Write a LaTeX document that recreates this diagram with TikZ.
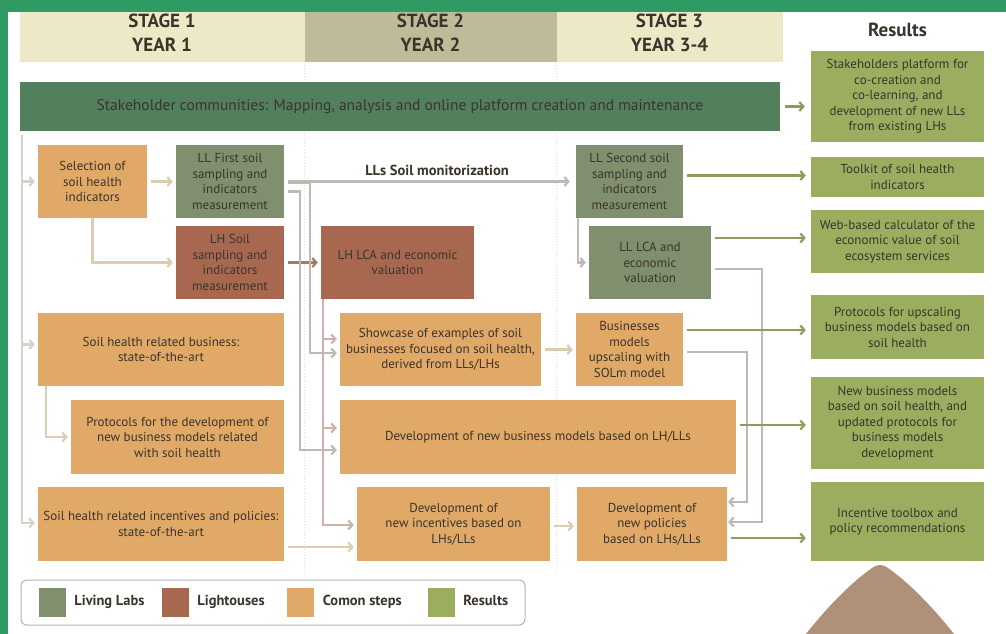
\documentclass[tikz,border=0pt]{standalone}
\usepackage{fontspec}
\setmainfont{PT Sans}
\usetikzlibrary{arrows.meta}
\usetikzlibrary{positioning}

\definecolor{frame}{HTML}{2F9A64}
\definecolor{cream}{HTML}{EDE8C6}
\definecolor{khaki}{HTML}{BEBC98}
\definecolor{bargreen}{HTML}{52805D}
\definecolor{llgreen}{HTML}{808F6E}
\definecolor{lhbrown}{HTML}{A8684F}
\definecolor{cmorange}{HTML}{E0A967}
\definecolor{resgreen}{HTML}{9BAD5F}
\definecolor{ink}{HTML}{3B342C}
\definecolor{lgray}{HTML}{D6D2C8}
\definecolor{beige}{HTML}{DCCDB2}
\definecolor{mgray}{HTML}{BDB9B3}
\definecolor{pinkl}{HTML}{CFB0AA}
\definecolor{brownl}{HTML}{A37A67}
\definecolor{olive}{HTML}{8E9B5C}
\definecolor{peak}{HTML}{B09079}
\definecolor{legline}{HTML}{B5B3AE}

\begin{document}
\begin{tikzpicture}[x=1pt,y=-1pt,
    every node/.style={text=ink},
    stepbox/.style={rectangle, align=center, inner sep=2pt, font=\fontsize{13}{15.5}\selectfont},
    llbox/.style={stepbox, fill=llgreen},
    lhbox/.style={stepbox, fill=lhbrown},
    cmbox/.style={stepbox, fill=cmorange},
    resbox/.style={stepbox, fill=resgreen, minimum width=173},
    stagecell/.style={rectangle, inner sep=0, minimum height=50},
    stagetxt/.style={align=center, font=\bfseries\fontsize{19}{24}\selectfont},
    link/.style={line width=2.2pt, shorten <=4pt, shorten >=3pt, -{Straight Barb[length=4pt,width=9pt]}},
    sepline/.style={draw=gray!25, dotted, line width=0.8pt},
    swatch/.style={rectangle, inner sep=0, minimum width=27, minimum height=29},
    legtxt/.style={inner sep=0, text height=10.5pt, text depth=3pt, font=\bfseries\fontsize{14.5}{16}\selectfont},
    node distance=8.5pt]

\useasboundingbox (0,0) rectangle (1006,634);
\fill[white] (0,0) rectangle (1006,634);
\fill[frame] (0,0) rectangle (1006,12);
\fill[frame] (0,0) rectangle (8,634);

\node[stagecell, fill=cream, minimum width=285] (st1) at (162,37) {};
\node[stagecell, fill=khaki, minimum width=252] (st2) at (430.5,37) {};
\node[stagecell, fill=cream, minimum width=226] (st3) at (669.5,37) {};
\node[stagetxt] at ([yshift=4.5pt]st1.center) {STAGE 1\\YEAR 1};
\node[stagetxt] at ([yshift=4.5pt]st2.center) {STAGE 2\\YEAR 2};
\node[stagetxt] at ([yshift=4.5pt]st3.center) {STAGE 3\\YEAR 3-4};
\node[font=\bfseries\fontsize{19}{21}\selectfont] (reshead) at (897.5,30) {Results};

\draw[sepline] (st1.south east) -- ++(0,510);
\draw[sepline] (st2.south east) -- ++(0,510);

\node[rectangle, fill=bargreen, minimum width=760, minimum height=49, font=\fontsize{15.5}{17}\selectfont] (stake) at (400,106.5)
    {Stakeholder communities: Mapping, analysis and online platform creation and maintenance};

\node[cmbox, minimum width=109, minimum height=73] (selind) at (92.5,181.5) {Selection of\\soil health\\indicators};
\node[llbox, minimum width=108, minimum height=73] (llfirst) at (230,181.5) {LL First soil\\sampling and\\indicators\\measurement};
\node[lhbox, minimum width=108, minimum height=73] (lhsoil) at (230,262.5) {LH Soil\\sampling and\\indicators\\measurement};
\node[lhbox, minimum width=153, minimum height=73] (lhlca) at (397.5,262.5) {LH LCA and economic\\valuation};
\node[llbox, minimum width=107, minimum height=73] (llsecond) at (629.5,181.5) {LL Second soil\\sampling and\\indicators\\measurement};
\node[llbox, minimum width=122, minimum height=73] (lllca) at (650,262.5) {LL LCA and\\economic\\valuation};
\node[cmbox, minimum width=246, minimum height=73] (shbus) at (161,349.5) {Soil health related business:\\state-of-the-art};
\node[cmbox, minimum width=201, minimum height=73] (showc) at (440.5,349.5) {Showcase of examples of soil\\businesses focused on soil health,\\derived from LLs/LHs};
\node[cmbox, minimum width=107, minimum height=73] (bmup) at (629.5,349.5) {Businesses\\models\\upscaling with\\SOLm model};
\node[cmbox, minimum width=213, minimum height=74] (protbm) at (177.5,437) {Protocols for the development of\\new business models related\\with soil health};
\node[cmbox, minimum width=396, minimum height=74] (bmdev) at (538,437) {Development of new business models based on LH/LLs};
\node[cmbox, minimum width=246, minimum height=74] (shinc) at (161,524) {Soil health related incentives and policies:\\state-of-the-art};
\node[cmbox, minimum width=193, minimum height=74] (newinc) at (453.5,524) {Development of\\new incentives based on\\LHs/LLs};
\node[cmbox, minimum width=150, minimum height=74] (newpol) at (652,524) {Development of\\new policies\\based on LHs/LLs};

\node[resbox, minimum height=91] (platform) at (897.5,96.5) {Stakeholders platform for\\co-creation and\\co-learning, and\\development of new LLs\\from existing LHs};
\node[resbox, minimum height=40] (toolkit) at (897.5,177) {Toolkit of soil health\\indicators};
\node[resbox, minimum height=63] (webcalc) at (897.5,241.5) {Web-based calculator of the\\economic value of soil\\ecosystem services};
\node[resbox, minimum height=64] (protup) at (897.5,327) {Protocols for upscaling\\business models based on\\soil health};
\node[resbox, minimum height=92] (newbm) at (897.5,423) {New business models\\based on soil health, and\\updated protocols for\\business models\\development};
\node[resbox, minimum height=79] (toolbox) at (897.5,521.5) {Incentive toolbox and\\policy recommendations};

\node[font=\bfseries\fontsize{14.5}{16}\selectfont] (monit) at (437,170) {LLs Soil monitorization};

\coordinate (lft) at ([xshift=2pt]stake.south west);
\draw[link, lgray] (lft) |- (selind.west);
\draw[link, lgray] (lft) |- ([yshift=5pt]shbus.west);
\draw[link, lgray] (lft) |- ([yshift=1pt]shinc.west);

\draw[link, beige] (selind.east) -- (llfirst.west);
\draw[link, beige, shorten <=0pt] (selind.south) |- (lhsoil.west);
\draw[link, brownl] (lhsoil.east) -- (lhlca.west);
\draw[link, beige, shorten <=0pt] ([xshift=8pt]shbus.south west) |- (protbm.west);
\draw[link, beige] ([yshift=-23pt]shinc.east) -- ([yshift=-23pt]shinc.east -| newinc.west);
\draw[link, beige] (showc.east) -- (bmup.west);
\draw[link, beige] ([yshift=-2pt]newinc.east) -- ([yshift=-2pt]newpol.west);

\draw[link, mgray, shorten >=6pt] (llfirst.east) -- (llfirst.east -| llsecond.west);
\draw[link, mgray] ([yshift=-1.5pt]llfirst.east) -- ++(26,0) |- ([yshift=-3.5pt]showc.west);
\draw[link, mgray] ([yshift=-10pt]llfirst.east) -- ++(16,0) |- ([yshift=-13pt]bmdev.west);

\draw[link, pinkl, shorten <=0pt] ([xshift=2pt]lhlca.south west) |- ([yshift=10.5pt]showc.west);
\draw[link, pinkl, shorten <=0pt] ([xshift=2pt]lhlca.south west) |- ([yshift=9pt]bmdev.west);
\draw[link, pinkl, shorten <=0pt] ([xshift=2pt]lhlca.south west) |- ([yshift=-1pt]newinc.west);

\draw[link, mgray, shorten <=0pt] ([xshift=2pt]llsecond.south west) |- (lllca.west);
\draw[link, mgray, shorten >=1pt] ([yshift=-6.5pt]lllca.east) -- ++(51,0) |- ([yshift=2pt]newpol.east);
\draw[link, mgray, shorten >=1pt] ([yshift=-2.5pt]bmup.east) -- ++(64,0) |- ([yshift=22pt]newpol.east);

\draw[link, olive, shorten <=5pt, shorten >=6pt] (stake.east) -- (stake.east -| platform.west);
\draw[link, olive, shorten >=5pt] ([yshift=6pt]llsecond.east) -- ([yshift=6pt]llsecond.east -| toolkit.west);
\draw[link, olive, shorten >=5pt] ([yshift=24.5pt]lllca.east) -- ([yshift=24.5pt]lllca.east -| webcalc.west);
\draw[link, olive, shorten >=5pt] ([yshift=19.5pt]bmup.east) -- ([yshift=19.5pt]bmup.east -| protup.west);
\draw[link, olive, shorten >=5pt] ([yshift=12pt]bmdev.east) -- ([yshift=12pt]bmdev.east -| newbm.west);
\draw[link, olive, shorten >=5pt] ([yshift=-14pt]newpol.east) -- ([yshift=-14pt]newpol.east -| toolbox.west);

\node[draw=legline, rounded corners=6pt, line width=1pt, minimum width=504, minimum height=45] (legend) at (273,602.5) {};
\node[swatch, fill=llgreen] (swll) at (52,602) {};
\node[legtxt, right=of swll] (txll) {Living Labs};
\node[swatch, fill=lhbrown] (swlh) at (175,602) {};
\node[legtxt, right=of swlh] (txlh) {Lightouses};
\node[swatch, fill=cmorange] (swcm) at (300.5,602) {};
\node[legtxt, right=of swcm] (txcm) {Comon steps};
\node[swatch, fill=resgreen] (swrs) at (441,602) {};
\node[legtxt, right=of swrs] (txrs) {Results};

\fill[peak] (806,634) .. controls (828,606) and (852,582) .. (872,568) .. controls (877,564) and (883,564) .. (888,568) .. controls (908,582) and (932,606) .. (954,634) -- cycle;
\end{tikzpicture}
\end{document}
